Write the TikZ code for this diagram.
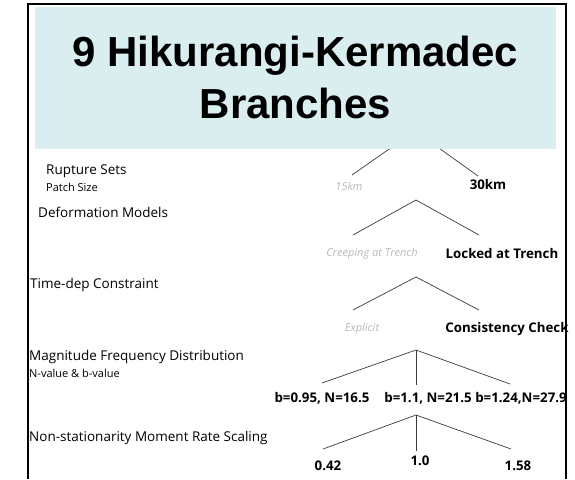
\documentclass[tikz,border=0pt]{standalone}
\usepackage{fontspec}
\setmainfont{Open Sans}
\newfontfamily\titlefont{Liberation Sans}
\definecolor{titlebg}{HTML}{DAEDEF}
\definecolor{dimtext}{HTML}{B8B8B8}
\definecolor{edgecol}{HTML}{3A3A3A}
\begin{document}
\begin{tikzpicture}[x=1pt,y=-1pt,
  lvl/.style={anchor=west,inner sep=0pt,font=\fontsize{13.5}{16}\selectfont},
  sublvl/.style={anchor=west,inner sep=0pt,font=\fontsize{11}{13}\selectfont},
  chosen/.style={inner sep=0pt,font=\fontsize{13.3}{16}\selectfont\bfseries},
  dimmed/.style={inner sep=0pt,text=dimtext,font=\fontsize{11}{13}\selectfont\itshape},
  branch/.style={draw=edgecol,line width=0.7pt}]
\useasboundingbox (0,0) rectangle (575,479);
% frame
\draw[line width=1.5pt] (28,479) -- (28,4) -- (566,4) -- (566,479);
% --- Rupture sets
\coordinate (rA) at (415,131);
\coordinate (r1) at (352,175);
\coordinate (r2) at (478,176);
\draw[branch] (r1) -- (rA) -- (r2);
\node[dimmed] (r1t) at (349,186) {15km};
\node[chosen] (r2t) at (488,185) {30km};
% title box (covers apex)
\node[fill=titlebg,minimum width=521pt,minimum height=142pt,anchor=north west,inner sep=0pt] (tbox) at (35,7) {};
\node[font=\titlefont\fontsize{42}{52}\selectfont\bfseries,align=center,anchor=base,inner sep=0pt] (title) at (295.5,118) {9 Hikurangi-Kermadec\\Branches};
% left labels
\node[lvl] (l1) at (46,171) {Rupture Sets};
\node[sublvl] (l1s) at (46,187) {Patch Size};
\node[lvl] (l2) at (38,212) {Deformation Models};
\node[lvl] (l3) at (30,285) {Time-dep Constraint};
\node[lvl] (l4) at (29,357) {Magnitude Frequency Distribution};
\node[sublvl] (l4s) at (29,373) {N-value \& b-value};
\node[lvl] (l5) at (29,438) {Non-stationarity Moment Rate Scaling};
% --- Deformation models
\coordinate (dA) at (416,200);
\coordinate (d1) at (353,235);
\coordinate (d2) at (479,235);
\draw[branch] (d1) -- (dA) -- (d2);
\node[dimmed] (d1t) at (372,254) {Creeping at Trench};
\node[chosen] (d2t) at (502,254) {Locked at Trench};
% --- Time-dep
\coordinate (tA) at (416,277);
\coordinate (t1) at (353,310);
\coordinate (t2) at (479,310);
\draw[branch] (t1) -- (tA) -- (t2);
\node[dimmed] (t1t) at (362,329) {Explicit};
\node[chosen] (t2t) at (507,329) {Consistency Check};
% --- MFD
\coordinate (mA) at (416,350);
\coordinate (m1) at (322,383);
\coordinate (m2) at (416,385);
\coordinate (m3) at (510,384);
\draw[branch] (m1) -- (mA) -- (m3);
\draw[branch] (mA) -- (m2);
\node[chosen] (m1t) at (322,398) {b=0.95, N=16.5};
\node[chosen] (m2t) at (428,398) {b=1.1, N=21.5};
\node[chosen] (m3t) at (521,398) {b=1.24,N=27.9};
% --- Scaling
\coordinate (sA) at (416,415);
\coordinate (s1) at (323,449);
\coordinate (s2) at (416,451);
\coordinate (s3) at (511,449);
\draw[branch] (s1) -- (sA) -- (s3);
\draw[branch] (sA) -- (s2);
\node[chosen] (s1t) at (328,466) {0.42};
\node[chosen] (s2t) at (420,461) {1.0};
\node[chosen] (s3t) at (518,466) {1.58};
\end{tikzpicture}
\end{document}
